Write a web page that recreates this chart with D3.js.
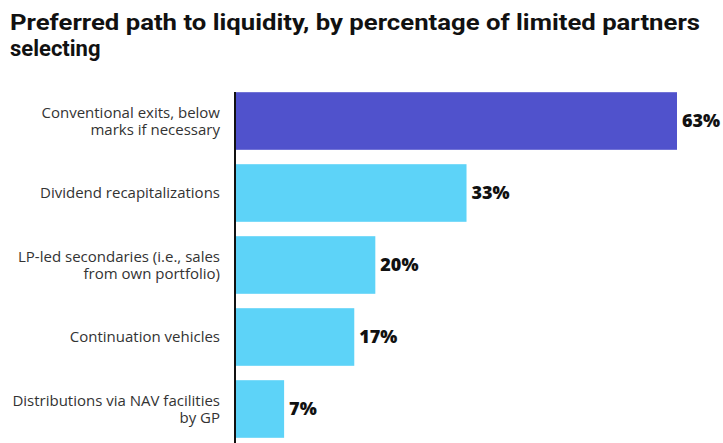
<!DOCTYPE html>
<html>
<head>
<meta charset="utf-8">
<script src="https://cdn.jsdelivr.net/npm/d3@7"></script>
<style>
  body { margin: 0; background: #fff; }
  svg { display: block; }
</style>
</head>
<body>
<div id="chart"></div>
<script>
// data
var categories = [
  ["Conventional exits, below", "marks if necessary"],
  ["Dividend recapitalizations"],
  ["LP-led secondaries (i.e., sales", "from own portfolio)"],
  ["Continuation vehicles"],
  ["Distributions via NAV facilities", "by GP"]
];
var values = [63, 33, 20, 17, 7];
var highlight = [true, false, false, false, false];

var width = 723, height = 443;
var svg = d3.select("#chart").append("svg")
  .attr("width", width).attr("height", height);

// title
svg.append("text")
  .attr("x", 10).attr("y", 30)
  .style("font-family", "Roboto, 'Liberation Sans', sans-serif")
  .style("font-size", "22px").style("font-weight", "bold")
  .attr("fill", "#111")
  .attr("textLength", 690).attr("lengthAdjust", "spacingAndGlyphs")
  .text("Preferred path to liquidity, by percentage of limited partners");
svg.append("text")
  .attr("x", 10).attr("y", 56)
  .style("font-family", "Roboto, 'Liberation Sans', sans-serif")
  .style("font-size", "22px").style("font-weight", "bold")
  .attr("fill", "#111")
  .text("selecting");

var x0 = 235;
var x = d3.scaleLinear().domain([0, 63]).range([x0, 677]);
var y = d3.scaleBand().domain(d3.range(values.length))
  .range([85, 445]).paddingInner(0.2).paddingOuter(0.1);

svg.selectAll("rect.bar").data(values).enter().append("rect")
  .attr("class", "bar")
  .attr("x", x0)
  .attr("y", function(d, i) { return y(i); })
  .attr("width", function(d) { return x(d) - x0; })
  .attr("height", y.bandwidth())
  .attr("fill", function(d, i) { return highlight[i] ? "#5052CC" : "#5DD3F8"; });

// value labels
svg.selectAll("text.val").data(values).enter().append("text")
  .attr("class", "val")
  .attr("x", function(d) { return x(d) + 5; })
  .attr("y", function(d, i) { return y(i) + y.bandwidth() / 2; })
  .attr("dy", "0.36em")
  .style("font-family", "'Open Sans', 'DejaVu Sans', sans-serif")
  .style("font-size", "18px").style("font-weight", "800")
  .attr("fill", "#111")
  .text(function(d) { return d + "%"; });

// category labels
var lab = svg.selectAll("text.cat").data(categories).enter().append("text")
  .attr("class", "cat")
  .attr("text-anchor", "end")
  .style("font-family", "'Open Sans', 'Noto Sans', sans-serif")
  .style("font-size", "15px")
  .attr("fill", "#333");
lab.each(function(lines, i) {
  var cy = y(i) + y.bandwidth() / 2;
  var lh = 17;
  var start = cy - (lines.length - 1) * lh / 2;
  d3.select(this).selectAll("tspan").data(lines).enter().append("tspan")
    .attr("x", 220)
    .attr("y", function(d, j) { return start + j * lh; })
    .attr("dy", "0.35em")
    .text(function(d) { return d; });
});

// axis line
svg.append("line")
  .attr("x1", x0).attr("x2", x0)
  .attr("y1", 92).attr("y2", height)
  .attr("stroke", "#111").attr("stroke-width", 2);
</script>
</body>
</html>
